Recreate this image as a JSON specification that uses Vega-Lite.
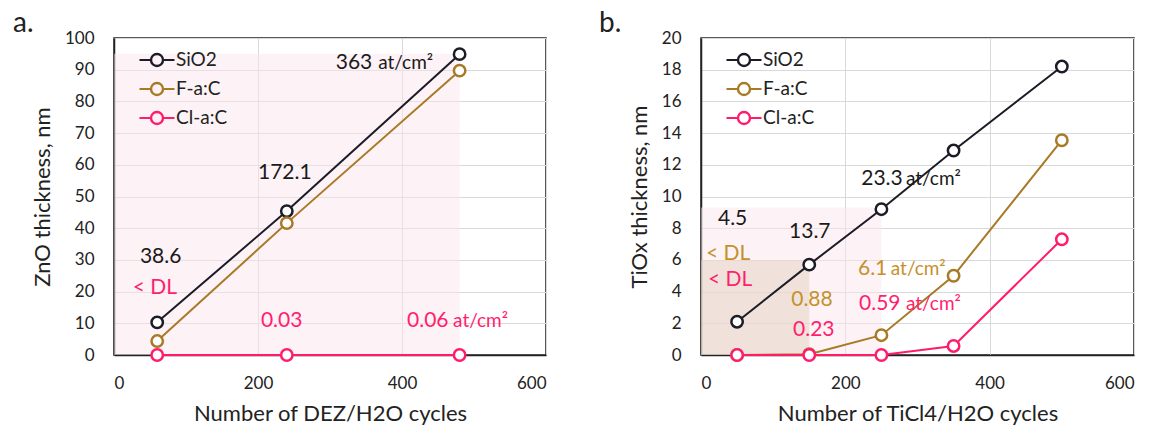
{
  "$schema": "https://vega.github.io/schema/vega-lite/v6.json",
  "background": "white",
  "padding": {"left": 12, "top": 9, "right": 5, "bottom": 0},
  "spacing": 51,
  "datasets": {
    "zno": [
      {"x": 60, "y": 10.3, "series": "SiO2"},
      {"x": 240, "y": 45.4, "series": "SiO2"},
      {"x": 480, "y": 94.9, "series": "SiO2"},
      {"x": 60, "y": 4.4, "series": "F-a:C"},
      {"x": 240, "y": 41.6, "series": "F-a:C"},
      {"x": 480, "y": 89.7, "series": "F-a:C"},
      {"x": 60, "y": 0, "series": "Cl-a:C"},
      {"x": 240, "y": 0, "series": "Cl-a:C"},
      {"x": 480, "y": 0, "series": "Cl-a:C"}
    ],
    "tiox": [
      {"x": 50, "y": 2.1, "series": "SiO2"},
      {"x": 150, "y": 5.7, "series": "SiO2"},
      {"x": 250, "y": 9.2, "series": "SiO2"},
      {"x": 350, "y": 12.9, "series": "SiO2"},
      {"x": 500, "y": 18.2, "series": "SiO2"},
      {"x": 50, "y": 0, "series": "F-a:C"},
      {"x": 150, "y": 0.05, "series": "F-a:C"},
      {"x": 250, "y": 1.25, "series": "F-a:C"},
      {"x": 350, "y": 5.0, "series": "F-a:C"},
      {"x": 500, "y": 13.55, "series": "F-a:C"},
      {"x": 50, "y": 0, "series": "Cl-a:C"},
      {"x": 150, "y": 0, "series": "Cl-a:C"},
      {"x": 250, "y": 0, "series": "Cl-a:C"},
      {"x": 350, "y": 0.57, "series": "Cl-a:C"},
      {"x": 500, "y": 7.3, "series": "Cl-a:C"}
    ],
    "shadeA": [{"x": 0, "x2": 480, "y": 0, "y2": 95}],
    "shadeB1": [{"x": 0, "x2": 250, "y": 0, "y2": 9.3}],
    "shadeB2": [{"x": 0, "x2": 150, "y": 0, "y2": 6}],
    "numA": [
      {"x": 308, "y": 92.1, "label": "363", "series": "SiO2"},
      {"x": 200, "y": 57.3, "label": "172.1", "series": "SiO2"},
      {"x": 36, "y": 31, "label": "38.6", "series": "SiO2"},
      {"x": 26, "y": 21, "label": "< DL", "series": "Cl-a:C"},
      {"x": 204, "y": 10.7, "label": "0.03", "series": "Cl-a:C"},
      {"x": 407, "y": 10.7, "label": "0.06", "series": "Cl-a:C"}
    ],
    "unitA": [
      {"x": 367, "y": 92.1, "label": "at/cm²", "series": "SiO2"},
      {"x": 471, "y": 10.7, "label": "at/cm²", "series": "Cl-a:C"}
    ],
    "numB": [
      {"x": 222, "y": 11.1, "label": "23.3", "series": "SiO2"},
      {"x": 23.5, "y": 8.6, "label": "4.5", "series": "SiO2"},
      {"x": 122, "y": 7.75, "label": "13.7", "series": "SiO2"},
      {"x": 7, "y": 6.4, "label": "< DL", "series": "F-a:C"},
      {"x": 9.7, "y": 4.75, "label": "< DL", "series": "Cl-a:C"},
      {"x": 125, "y": 3.5, "label": "0.88", "series": "F-a:C"},
      {"x": 127.5, "y": 1.6, "label": "0.23", "series": "Cl-a:C"},
      {"x": 217.5, "y": 5.45, "label": "6.1", "series": "F-a:C"},
      {"x": 219, "y": 3.2, "label": "0.59", "series": "Cl-a:C"}
    ],
    "unitB": [
      {"x": 284, "y": 11.1, "label": "at/cm²", "series": "SiO2"},
      {"x": 263, "y": 5.45, "label": "at/cm²", "series": "F-a:C"},
      {"x": 284, "y": 3.2, "label": "at/cm²", "series": "Cl-a:C"}
    ]
  },
  "hconcat": [
    {
      "width": 432,
      "height": 317,
      "title": {"text": "a.", "anchor": "start", "frame": "group", "dx": -101, "fontSize": 28, "fontWeight": "normal", "baseline": "alphabetic", "offset": -31, "color": "#222"},
      "encoding": {
        "x": {"field": "x", "type": "quantitative", "scale": {"domain": [0, 600], "nice": false},
          "axis": {"values": [0, 200, 400, 600], "title": "Number of DEZ/H2O cycles"}},
        "y": {"field": "y", "type": "quantitative", "scale": {"domain": [0, 100], "nice": false},
          "axis": {"values": [0, 10, 20, 30, 40, 50, 60, 70, 80, 90, 100], "title": "ZnO thickness, nm"}}
      },
      "layer": [
        {"data": {"name": "shadeA"}, "mark": {"type": "rect", "color": "#fbe6ee", "opacity": 0.5},
          "encoding": {"x2": {"field": "x2"}, "y2": {"field": "y2"}}},
        {"data": {"name": "zno"}, "mark": {"type": "line", "strokeWidth": 2},
          "encoding": {"color": {"field": "series", "type": "nominal",
            "scale": {"domain": ["SiO2", "F-a:C", "Cl-a:C"], "range": ["#1c1c28", "#a87a26", "#ff1c6c"]},
            "legend": {"orient": "none", "legendX": 32, "legendY": 11, "symbolSize": 400,
              "encode": {"symbols": {"update": {"size": {"value": 400}}}}}}}},
        {"data": {"name": "zno"}, "mark": {"type": "point", "shape": "circle", "filled": false, "fill": "white", "size": 130, "strokeWidth": 2.5, "opacity": 1},
          "encoding": {"color": {"field": "series", "type": "nominal", "legend": null}}},
        {"data": {"name": "numA"}, "mark": {"type": "text", "align": "left", "baseline": "middle", "fontSize": 21},
          "encoding": {"text": {"field": "label"}, "fill": {"field": "series", "type": "nominal",
            "scale": {"domain": ["SiO2", "F-a:C", "Cl-a:C"], "range": ["#1a1a1a", "#c4922b", "#ff1f6f"]}, "legend": null}}},
        {"data": {"name": "unitA"}, "mark": {"type": "text", "align": "left", "baseline": "middle", "fontSize": 19},
          "encoding": {"text": {"field": "label"}, "fill": {"field": "series", "type": "nominal", "legend": null}}}
      ]
    },
    {
      "width": 433,
      "height": 317,
      "title": {"text": "b.", "anchor": "start", "frame": "group", "dx": -102, "fontSize": 28, "fontWeight": "normal", "baseline": "alphabetic", "offset": -31, "color": "#222"},
      "encoding": {
        "x": {"field": "x", "type": "quantitative", "scale": {"domain": [0, 600], "nice": false},
          "axis": {"values": [0, 200, 400, 600], "title": "Number of TiCl4/H2O cycles"}},
        "y": {"field": "y", "type": "quantitative", "scale": {"domain": [0, 20], "nice": false},
          "axis": {"values": [0, 2, 4, 6, 8, 10, 12, 14, 16, 18, 20], "title": "TiOx thickness, nm"}}
      },
      "layer": [
        {"data": {"name": "shadeB1"}, "mark": {"type": "rect", "color": "#fbe6ee", "opacity": 0.5},
          "encoding": {"x2": {"field": "x2"}, "y2": {"field": "y2"}}},
        {"data": {"name": "shadeB2"}, "mark": {"type": "rect", "color": "#e3d2bf", "opacity": 0.5},
          "encoding": {"x2": {"field": "x2"}, "y2": {"field": "y2"}}},
        {"data": {"name": "tiox"}, "mark": {"type": "line", "strokeWidth": 2},
          "encoding": {"color": {"field": "series", "type": "nominal",
            "scale": {"domain": ["SiO2", "F-a:C", "Cl-a:C"], "range": ["#1c1c28", "#a87a26", "#ff1c6c"]},
            "legend": {"orient": "none", "legendX": 32, "legendY": 11, "symbolSize": 400,
              "encode": {"symbols": {"update": {"size": {"value": 400}}}}}}}},
        {"data": {"name": "tiox"}, "mark": {"type": "point", "shape": "circle", "filled": false, "fill": "white", "size": 130, "strokeWidth": 2.5, "opacity": 1},
          "encoding": {"color": {"field": "series", "type": "nominal", "legend": null}}},
        {"data": {"name": "numB"}, "mark": {"type": "text", "align": "left", "baseline": "middle", "fontSize": 21},
          "encoding": {"text": {"field": "label"}, "fill": {"field": "series", "type": "nominal",
            "scale": {"domain": ["SiO2", "F-a:C", "Cl-a:C"], "range": ["#1a1a1a", "#c4922b", "#ff1f6f"]}, "legend": null}}},
        {"data": {"name": "unitB"}, "mark": {"type": "text", "align": "left", "baseline": "middle", "fontSize": 19},
          "encoding": {"text": {"field": "label"}, "fill": {"field": "series", "type": "nominal", "legend": null}}}
      ]
    }
  ],
  "resolve": {"scale": {"color": "independent", "fill": "independent", "x": "independent", "y": "independent"}, "legend": {"color": "independent"}},
  "config": {
    "font": "Lato",
    "view": {"stroke": "#222", "strokeWidth": 1.5},
    "axis": {
      "grid": true, "gridColor": "#d9d9d9", "gridWidth": 1, "ticks": false,
      "domainColor": "#222", "domainWidth": 1.5,
      "labelFont": "Lato", "labelFontSize": 17, "labelColor": "#222", "labelPadding": 20,
      "titleFont": "Lato", "titleFontSize": 22, "titleFontWeight": "normal", "titleColor": "#222"
    },
    "axisX": {"titlePadding": 12},
    "axisY": {"titlePadding": 10},
    "legend": {
      "title": null,
      "symbolType": "M-1.75,0L-0.63,0M0.63,0L1.75,0M-0.63,0A0.63,0.63,0,1,1,0.63,0A0.63,0.63,0,1,1,-0.63,0ZM-0.57,0A0.57,0.57,0,1,0,0.57,0A0.57,0.57,0,1,0,-0.57,0Z",
      "symbolSize": 400, "symbolStrokeWidth": 1.8,
      "labelFont": "Lato", "labelFontSize": 19, "labelColor": "#222", "labelOffset": 8,
      "rowPadding": 8
    }
  }
}
